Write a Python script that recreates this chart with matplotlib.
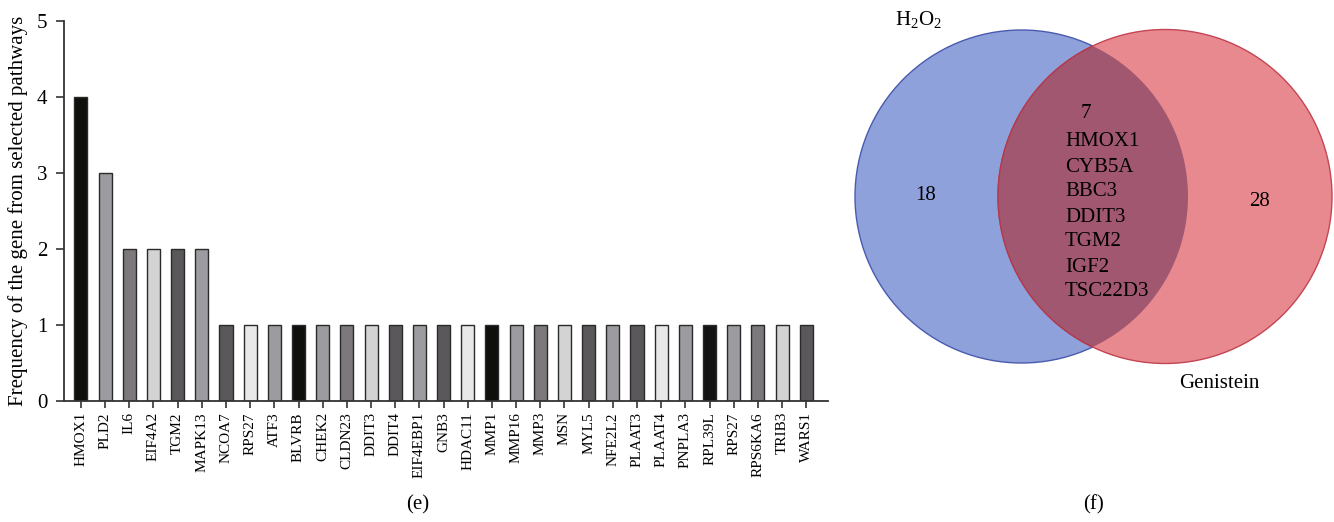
import numpy as np
import matplotlib.pyplot as plt
from matplotlib.patches import Circle

plt.rcParams['font.family'] = ['Liberation Serif', 'DejaVu Serif']
plt.rcParams['mathtext.default'] = 'regular'

genes = ['HMOX1', 'PLD2', 'IL6', 'EIF4A2', 'TGM2', 'MAPK13', 'NCOA7', 'RPS27',
         'ATF3', 'BLVRB', 'CHEK2', 'CLDN23', 'DDIT3', 'DDIT4', 'EIF4EBP1', 'GNB3',
         'HDAC11', 'MMP1', 'MMP16', 'MMP3', 'MSN', 'MYL5', 'NFE2L2', 'PLAAT3',
         'PLAAT4', 'PNPLA3', 'RPL39L', 'RPS27', 'RPS6KA6', 'TRIB3', 'WARS1']
freq = [4, 3, 2, 2, 2, 2, 1, 1, 1, 1, 1, 1, 1, 1, 1, 1,
        1, 1, 1, 1, 1, 1, 1, 1, 1, 1, 1, 1, 1, 1, 1]
bar_colors = ['#0f100c', '#9c9ba0', '#7c787b', '#d3d3d3', '#5a585b', '#9c9ba0',
              '#5a585b', '#e8e8e8', '#9c9ba0', '#0f100c', '#9c9ba0', '#7c787b',
              '#d3d3d3', '#5a585b', '#9c9ba0', '#5a585b', '#e8e8e8', '#0f100c',
              '#9c9ba0', '#7c787b', '#d3d3d3', '#5a585b', '#9c9ba0', '#5a585b',
              '#e8e8e8', '#9c9ba0', '#141414', '#9c9ba0', '#7c787b', '#d3d3d3',
              '#5a585b']

# venn counts and shared genes
only_h2o2 = 18
only_gen = 28
shared = ['HMOX1', 'CYB5A', 'BBC3', 'DDIT3', 'TGM2', 'IGF2', 'TSC22D3']

W, H = 1334, 522
fig = plt.figure(figsize=(W / 100, H / 100), dpi=100)

# --- bar panel (e) ---
ax = fig.add_axes([64 / W, 121 / H, 764 / W, 380 / H])
x = np.arange(len(genes))
ax.bar(x, freq, width=0.54, color=bar_colors, edgecolor='#2a2a2a', linewidth=1.0)
ax.set_xlim(-0.70, 30.9)
ax.set_ylim(0, 5)
ax.set_yticks(range(6))
ax.set_xticks(x)
ax.set_xticklabels(genes, rotation=90, fontsize=11)
ax.tick_params(axis='y', labelsize=15, length=6, width=1.2, color='#333333', pad=6)
ax.tick_params(axis='x', length=5, width=1.2, color='#333333', pad=3)
for s in ['top', 'right']:
    ax.spines[s].set_visible(False)
for s in ['left', 'bottom']:
    ax.spines[s].set_linewidth(1.3)
    ax.spines[s].set_color('#333333')
ax.set_ylabel('Frequency of the gene from selected pathways', fontsize=15, labelpad=6)

# --- venn panel (f), drawn in pixel coordinates ---
vx = fig.add_axes([0, 0, 1, 1], facecolor='none')
vx.set_xlim(0, W)
vx.set_ylim(H, 0)
vx.axis('off')

blue = Circle((1021.5, 196.5), 166.5, facecolor='#8fa1da', edgecolor='#4a5bb0', linewidth=1.0)
red = Circle((1165, 196.5), 167, facecolor='#e8898f', edgecolor='#c44553', linewidth=1.0)
vx.add_patch(blue)
vx.add_patch(red)
lens = Circle((1165, 196.5), 167, facecolor='#a25770', edgecolor='#b23a4e', linewidth=1.0)
vx.add_patch(lens)
lens.set_clip_path(blue)

vx.text(918, 20, r'H$_2$O$_2$', fontsize=15, ha='center', va='center')
vx.text(1219, 384, 'Genistein', fontsize=15, ha='center', va='center')
vx.text(926, 196, str(only_h2o2), fontsize=15, ha='center', va='center')
vx.text(1259, 201, str(only_gen), fontsize=15, ha='center', va='center')
vx.text(1086, 114, str(len(shared)), fontsize=15, ha='center', va='center')
for i, g in enumerate(shared):
    vx.text(1065, 142 + 25 * i, g, fontsize=15, ha='left', va='center')

vx.text(418, 505, '(e)', fontsize=15, ha='center', va='center')
vx.text(1093, 505, '(f)', fontsize=15, ha='center', va='center')

fig.savefig('out.png', dpi=100)
